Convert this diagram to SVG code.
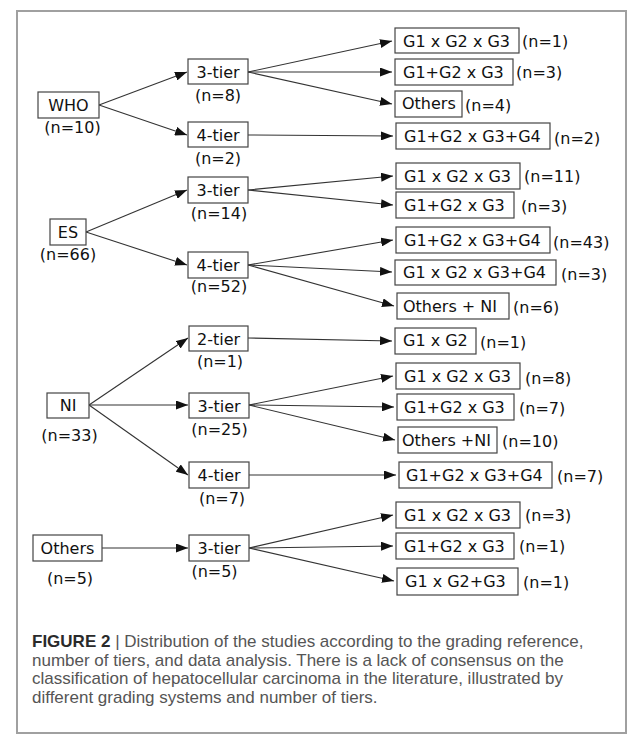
<svg xmlns="http://www.w3.org/2000/svg" width="637" height="751" viewBox="0 0 637 751">
<defs>
<marker id="ah" markerUnits="userSpaceOnUse" markerWidth="12" markerHeight="9" refX="12" refY="4.5" orient="auto">
<path d="M0,0 L12,4.5 L0,9 z" fill="#111"/>
</marker>
<style>
.b{fill:#fff;stroke:#444;stroke-width:1.2}
.t{font-family:"DejaVu Sans",sans-serif;font-size:16px;fill:#111}
.m{text-anchor:middle}
.c{stroke:#333;stroke-width:1.1;fill:none;marker-end:url(#ah)}
.cap{font-family:"Liberation Sans",Arial,sans-serif;font-size:17px;fill:#555}
</style>
</defs>
<rect width="637" height="751" fill="#fff"/>
<rect x="17" y="11" width="609" height="722" fill="none" stroke="#a0a0a0" stroke-width="2"/>

<g id="connectors">
<line class="c" x1="99" y1="105" x2="187" y2="72"/>
<line class="c" x1="99" y1="105" x2="187" y2="135"/>
<line class="c" x1="86" y1="232" x2="187" y2="190"/>
<line class="c" x1="86" y1="232" x2="187" y2="265"/>
<line class="c" x1="89" y1="405" x2="188" y2="338"/>
<line class="c" x1="89" y1="405" x2="188" y2="405"/>
<line class="c" x1="89" y1="405" x2="188" y2="475"/>
<line class="c" x1="102" y1="548" x2="188" y2="548"/>

<line class="c" x1="248" y1="72" x2="392" y2="41"/>
<line class="c" x1="248" y1="72" x2="392" y2="72"/>
<line class="c" x1="248" y1="72" x2="392" y2="104"/>
<line class="c" x1="248" y1="135" x2="393" y2="136"/>
<line class="c" x1="248" y1="190" x2="393" y2="176"/>
<line class="c" x1="248" y1="190" x2="393" y2="205"/>
<line class="c" x1="248" y1="265" x2="393" y2="240"/>
<line class="c" x1="248" y1="265" x2="392" y2="272"/>
<line class="c" x1="248" y1="265" x2="394" y2="306"/>
<line class="c" x1="248" y1="338" x2="392" y2="341"/>
<line class="c" x1="249" y1="405" x2="393" y2="376"/>
<line class="c" x1="249" y1="405" x2="394" y2="407"/>
<line class="c" x1="249" y1="405" x2="395" y2="440"/>
<line class="c" x1="249" y1="475" x2="396" y2="475"/>
<line class="c" x1="249" y1="548" x2="393" y2="515"/>
<line class="c" x1="249" y1="548" x2="393" y2="546"/>
<line class="c" x1="249" y1="548" x2="394" y2="581"/>
</g>

<g id="who">
<rect class="b" x="38" y="92" width="61" height="26"/>
<text class="t m" x="68.5" y="111">WHO</text>
<text class="t m" x="72.5" y="133">(n=10)</text>
</g>
<g id="es">
<rect class="b" x="50" y="219" width="36" height="26"/>
<text class="t m" x="68" y="238">ES</text>
<text class="t m" x="68" y="260">(n=66)</text>
</g>
<g id="ni">
<rect class="b" x="47" y="393" width="42" height="25"/>
<text class="t m" x="68" y="411">NI</text>
<text class="t m" x="69.5" y="441">(n=33)</text>
</g>
<g id="others">
<rect class="b" x="33" y="535" width="69" height="26"/>
<text class="t m" x="67.5" y="554">Others</text>
<text class="t m" x="70" y="584">(n=5)</text>
</g>

<g id="who-3tier">
<rect class="b" x="188" y="59" width="60" height="25"/>
<text class="t m" x="218" y="77.5">3-tier</text>
<text class="t m" x="218" y="101">(n=8)</text>
</g>
<g id="who-4tier">
<rect class="b" x="188" y="122" width="60" height="25"/>
<text class="t m" x="218" y="140.5">4-tier</text>
<text class="t m" x="218" y="164">(n=2)</text>
</g>
<g id="es-3tier">
<rect class="b" x="188" y="177" width="60" height="26"/>
<text class="t m" x="218" y="196">3-tier</text>
<text class="t m" x="219" y="219">(n=14)</text>
</g>
<g id="es-4tier">
<rect class="b" x="188" y="252" width="60" height="26"/>
<text class="t m" x="218" y="271">4-tier</text>
<text class="t m" x="219" y="292">(n=52)</text>
</g>
<g id="ni-2tier">
<rect class="b" x="189" y="326" width="59" height="25"/>
<text class="t m" x="218.5" y="344.5">2-tier</text>
<text class="t m" x="220" y="367">(n=1)</text>
</g>
<g id="ni-3tier">
<rect class="b" x="189" y="393" width="60" height="25"/>
<text class="t m" x="219" y="411.5">3-tier</text>
<text class="t m" x="219.5" y="435">(n=25)</text>
</g>
<g id="ni-4tier">
<rect class="b" x="189" y="462" width="60" height="26"/>
<text class="t m" x="219" y="481">4-tier</text>
<text class="t m" x="222" y="504">(n=7)</text>
</g>
<g id="others-3tier">
<rect class="b" x="189" y="535" width="60" height="26"/>
<text class="t m" x="219" y="554">3-tier</text>
<text class="t m" x="214.5" y="577">(n=5)</text>
</g>

<g id="r1"><rect class="b" x="395" y="28" width="124" height="25"/><text class="t" x="403" y="47">G1 x G2 x G3</text><text class="t" x="522" y="47">(n=1)</text></g>
<g id="r2"><rect class="b" x="395" y="59" width="118" height="26"/><text class="t" x="403" y="78">G1+G2 x G3</text><text class="t" x="516" y="78">(n=3)</text></g>
<g id="r3"><rect class="b" x="395" y="91" width="67" height="26"/><text class="t" x="402" y="109">Others</text><text class="t" x="465" y="111">(n=4)</text></g>
<g id="r4"><rect class="b" x="396" y="123" width="154" height="26"/><text class="t" x="404" y="142">G1+G2 x G3+G4</text><text class="t" x="554" y="144">(n=2)</text></g>
<g id="r5"><rect class="b" x="396" y="163" width="124" height="26"/><text class="t" x="404" y="182">G1 x G2 x G3</text><text class="t" x="524" y="182">(n=11)</text></g>
<g id="r6"><rect class="b" x="396" y="192" width="118" height="26"/><text class="t" x="404" y="211">G1+G2 x G3</text><text class="t" x="521" y="212">(n=3)</text></g>
<g id="r7"><rect class="b" x="396" y="227" width="154" height="26"/><text class="t" x="404" y="246">G1+G2 x G3+G4</text><text class="t" x="553" y="248">(n=43)</text></g>
<g id="r8"><rect class="b" x="395" y="260" width="161" height="25"/><text class="t" x="403" y="278">G1 x G2 x G3+G4</text><text class="t" x="561" y="280">(n=3)</text></g>
<g id="r9"><rect class="b" x="397" y="293" width="112" height="26"/><text class="t" x="403" y="312">Others + NI</text><text class="t" x="513" y="313">(n=6)</text></g>
<g id="r10"><rect class="b" x="395" y="328" width="81" height="26"/><text class="t" x="403" y="346">G1 x G2</text><text class="t" x="480" y="348">(n=1)</text></g>
<g id="r11"><rect class="b" x="396" y="363" width="124" height="26"/><text class="t" x="404" y="382">G1 x G2 x G3</text><text class="t" x="525" y="384">(n=8)</text></g>
<g id="r12"><rect class="b" x="397" y="394" width="117" height="26"/><text class="t" x="404" y="413">G1+G2 x G3</text><text class="t" x="519" y="414">(n=7)</text></g>
<g id="r13"><rect class="b" x="398" y="427" width="99" height="26"/><text class="t" x="402" y="446">Others +NI</text><text class="t" x="502" y="447">(n=10)</text></g>
<g id="r14"><rect class="b" x="399" y="462" width="153" height="26"/><text class="t" x="406" y="481">G1+G2 x G3+G4</text><text class="t" x="557" y="482">(n=7)</text></g>
<g id="r15"><rect class="b" x="396" y="502" width="124" height="26"/><text class="t" x="404" y="521">G1 x G2 x G3</text><text class="t" x="525" y="521">(n=3)</text></g>
<g id="r16"><rect class="b" x="396" y="533" width="118" height="26"/><text class="t" x="404" y="552">G1+G2 x G3</text><text class="t" x="519" y="552">(n=1)</text></g>
<g id="r17"><rect class="b" x="397" y="568" width="121" height="27"/><text class="t" x="405" y="587">G1 x G2+G3</text><text class="t" x="523" y="588">(n=1)</text></g>

<g id="caption">
<text class="cap" x="32" y="647"><tspan font-weight="bold" fill="#2a2a2a">FIGURE 2</tspan> | Distribution of the studies according to the grading reference,</text>
<text class="cap" x="32" y="665.5">number of tiers, and data analysis. There is a lack of consensus on the</text>
<text class="cap" x="32" y="684">classification of hepatocellular carcinoma in the literature, illustrated by</text>
<text class="cap" x="32" y="702.5">different grading systems and number of tiers.</text>
</g>
</svg>
